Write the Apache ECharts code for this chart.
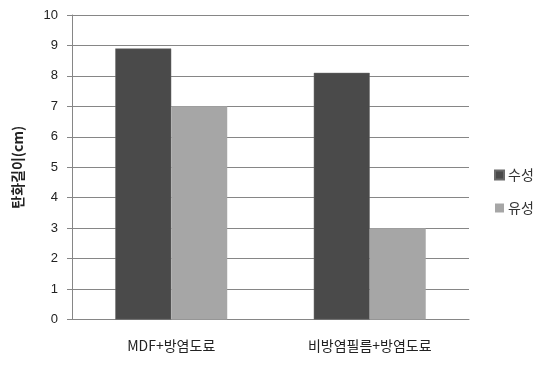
<!DOCTYPE html>
<html>
<head>
<meta charset="utf-8">
<script src="https://cdn.jsdelivr.net/npm/echarts@6/dist/echarts.min.js"></script>
<style>
  html, body { margin: 0; padding: 0; background: #fff; }
  #chart { width: 538px; height: 365px; }
</style>
</head>
<body>
<div id="chart"></div>
<script>
// Carbonized length by finish type
const categories = ['MDF+방염도료', '비방염필름+방염도료'];
const waterBased = [8.9, 8.1];   // 수성
const oilBased = [7.0, 3.0];     // 유성
const seriesNames = ['수성', '유성'];
const yTicks = { min: 0, max: 10, interval: 1 };
const yTitle = '탄화길이(cm)';

const font = '"Noto Sans CJK KR", "Noto Sans", sans-serif';
const chart = echarts.init(document.getElementById('chart'), null, { renderer: 'canvas' });

chart.setOption({
  animation: false,
  backgroundColor: '#ffffff',
  grid: { left: 72, right: 69, top: 15, bottom: 45.5, containLabel: false },
  legend: {
    orient: 'vertical',
    left: 489,
    top: 163,
    itemWidth: 9,
    itemHeight: 9,
    itemGap: 19,
    icon: 'rect',
    textStyle: { fontFamily: font, fontSize: 14, color: '#333', padding: [0, 0, 0, -1] },
    data: seriesNames
  },
  xAxis: {
    type: 'category',
    data: categories,
    axisLine: { lineStyle: { color: '#868686', width: 1 } },
    axisTick: { show: false },
    axisLabel: { fontFamily: font, fontSize: 14, color: '#222', margin: 19 }
  },
  yAxis: {
    type: 'value',
    min: yTicks.min,
    max: yTicks.max,
    interval: yTicks.interval,
    name: yTitle,
    nameLocation: 'middle',
    nameGap: 47,
    nameTextStyle: { fontFamily: font, fontSize: 14, fontWeight: 'bold', color: '#222' },
    axisLine: { show: true, lineStyle: { color: '#868686', width: 1 } },
    axisTick: { show: true, length: 5, lineStyle: { color: '#868686' } },
    axisLabel: { fontFamily: '"Liberation Sans", "DejaVu Sans", sans-serif', fontSize: 13, color: '#222', margin: 14 },
    splitLine: { show: true, lineStyle: { color: '#868686', width: 1 } }
  },
  series: [
    {
      name: seriesNames[0],
      type: 'bar',
      data: waterBased,
      barGap: '0%',
      barCategoryGap: '43.6%',
      itemStyle: { color: '#4a4a4a', borderColor: '#6a6a6a', borderWidth: 0.5 }
    },
    {
      name: seriesNames[1],
      type: 'bar',
      data: oilBased,
      itemStyle: { color: '#a6a6a6' }
    }
  ]
});
</script>
</body>
</html>
